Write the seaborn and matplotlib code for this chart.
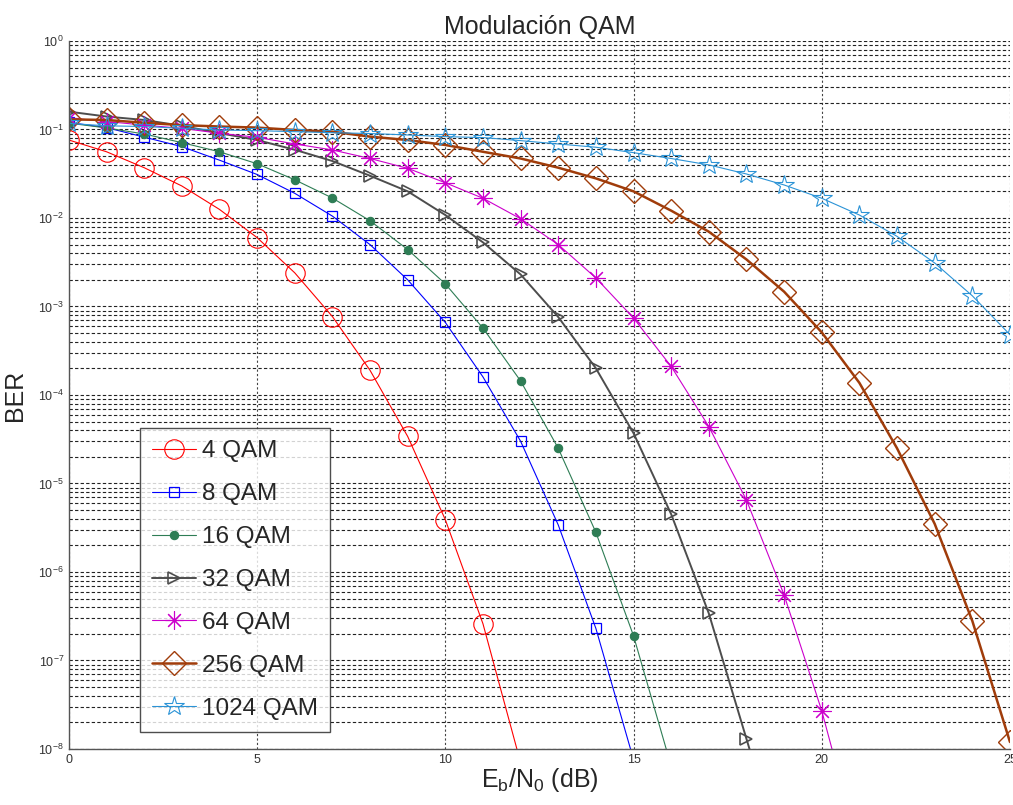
import numpy as np
import pandas as pd
import matplotlib
matplotlib.use("Agg")
import matplotlib.pyplot as plt
import seaborn as sns
from matplotlib.ticker import LogLocator, NullFormatter, FixedLocator

# ---- data ----
ebn0_4 = list(range(0, 13))
ber_4 = [0.076, 0.056, 0.037, 0.023, 0.0125, 0.006, 0.0024, 7.7e-4, 1.9e-4,
         3.4e-5, 3.9e-6, 2.6e-7, 7.0e-9]

ebn0_8 = list(range(0, 16))
ber_8 = [0.12, 0.105, 0.082, 0.064, 0.045, 0.031, 0.019, 0.0105, 0.005, 0.002,
         6.6e-4, 1.6e-4, 3.0e-5, 3.4e-6, 2.3e-7, 7.6e-9]

ebn0_16 = list(range(0, 17))
ber_16 = [0.118, 0.104, 0.089, 0.071, 0.056, 0.041, 0.027, 0.0168, 0.0093,
          0.0044, 0.0018, 5.7e-4, 1.44e-4, 2.5e-5, 2.8e-6, 1.9e-7, 6.4e-9]

ebn0_32 = list(range(0, 20))
ber_32 = [0.159, 0.14, 0.128, 0.11, 0.091, 0.076, 0.059, 0.044, 0.030, 0.020,
          0.0108, 0.0053, 0.0023, 7.6e-4, 2.0e-4, 3.7e-5, 4.5e-6, 3.4e-7,
          1.3e-8, 5e-10]

ebn0_64 = list(range(0, 22))
ber_64 = [0.135, 0.123, 0.112, 0.103, 0.0906, 0.0816, 0.0686, 0.0587, 0.047,
          0.0364, 0.025, 0.0167, 0.0098, 0.005, 0.0021, 7.4e-4, 2.1e-4,
          4.4e-5, 6.5e-6, 5.5e-7, 2.7e-8, 7e-10]

ebn0_256 = list(range(0, 26))
ber_256 = [0.13, 0.128, 0.119, 0.112, 0.108, 0.105, 0.0987, 0.0944, 0.083,
           0.076, 0.0668, 0.056, 0.047, 0.037, 0.028, 0.020, 0.0121, 0.0070,
           0.0034, 0.00147, 5.1e-4, 1.37e-4, 2.5e-5, 3.5e-6, 2.8e-7, 1.2e-8]

ebn0_1024 = list(range(0, 26))
ber_1024 = [0.117, 0.11, 0.108, 0.103, 0.0987, 0.097, 0.0944, 0.0920, 0.090,
            0.0867, 0.083, 0.081, 0.0748, 0.0686, 0.063, 0.0547, 0.047,
            0.0398, 0.0314, 0.0236, 0.0167, 0.0108, 0.0062, 0.0031, 0.00132,
            4.8e-4]

labels = ["4 QAM", "8 QAM", "16 QAM", "32 QAM", "64 QAM", "256 QAM", "1024 QAM"]
xticks = [0, 5, 10, 15, 20, 25]

series = [
    (ebn0_4, ber_4, dict(color="#ff0000", marker="o", markersize=14, mfc="none", lw=0.8, mew=0.8)),
    (ebn0_8, ber_8, dict(color="#0000ff", marker="s", markersize=7, mfc="none", lw=0.8, mew=0.9)),
    (ebn0_16, ber_16, dict(color="#2e7d55", marker="o", markersize=6, mfc="#2e7d55", lw=0.8, mew=0.8)),
    (ebn0_32, ber_32, dict(color="#4d4d4d", marker=">", markersize=8, mfc="none", lw=1.4, mew=1.2)),
    (ebn0_64, ber_64, dict(color="#cc00cc", marker=(8, 2, 0), markersize=13, mfc="none", lw=0.8, mew=0.8)),
    (ebn0_256, ber_256, dict(color="#a03c0a", marker="D", markersize=12, mfc="none", lw=1.8, mew=1.0)),
    (ebn0_1024, ber_1024, dict(color="#2b93d6", marker="*", markersize=15, mfc="none", lw=0.8, mew=0.8)),
]

sns.set_style("white")
plt.rcParams["font.family"] = ["Liberation Sans", "DejaVu Sans"]

fig = plt.figure(figsize=(10.13, 8.05), dpi=100)
ax = fig.add_axes([0.068, 0.0696, 0.929, 0.8795])

for (x, y, st), lab in zip(series, labels):
    df = pd.DataFrame({"x": x, "y": y})
    sns.lineplot(data=df, x="x", y="y", ax=ax, label=lab, color=st["color"],
                 marker=st["marker"], markersize=st["markersize"],
                 markerfacecolor=st["mfc"], markeredgecolor=st["color"],
                 markeredgewidth=st["mew"], linewidth=st["lw"], clip_on=True)

ax.set_yscale("log")
ax.set_xlim(0, 25)
ax.set_ylim(1e-8, 1)
ax.xaxis.set_major_locator(FixedLocator(xticks))
ax.set_xticklabels([str(t) for t in xticks])
ax.yaxis.set_major_locator(LogLocator(base=10, numticks=20))
ax.yaxis.set_minor_locator(LogLocator(base=10, subs=np.arange(2, 10), numticks=20))
ax.yaxis.set_minor_formatter(NullFormatter())

ax.grid(True, which="major", axis="x", color="#444444", linestyle=(0, (2, 2)), linewidth=0.8)
ax.grid(True, which="both", axis="y", color="#222222", linestyle=(0, (3, 2)), linewidth=0.8)

for s in ["top", "right"]:
    ax.spines[s].set_visible(False)
for s in ["left", "bottom"]:
    ax.spines[s].set_color("#555555")
    ax.spines[s].set_linewidth(1.0)

ax.tick_params(axis="both", which="both", direction="in", labelsize=9, colors="#333333", length=4)
ax.tick_params(axis="y", which="minor", length=2)

ax.set_title("Modulación QAM", fontsize=18, pad=5)
ax.set_ylabel("BER", fontsize=18, labelpad=8)
ax.set_xlabel(r"$\mathregular{E_b/N_0}$ (dB)", fontsize=18, labelpad=0)

leg = ax.legend(loc="lower left", bbox_to_anchor=(0.0755, 0.024), borderaxespad=0,
                fontsize=17.5, frameon=True, fancybox=False, edgecolor="#222222",
                handlelength=1.8, labelspacing=0.86, borderpad=0.5, handletextpad=0.25)
leg.get_frame().set_linewidth(1.0)

fig.savefig("out.png", dpi=100)
